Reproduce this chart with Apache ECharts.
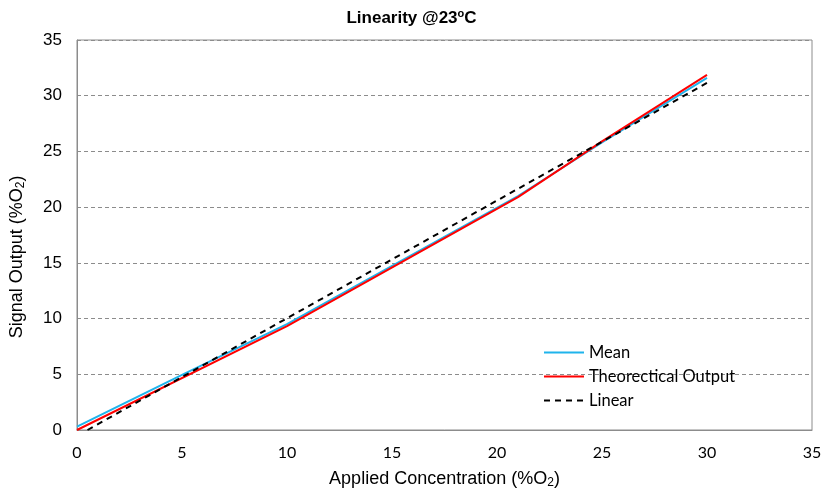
<!DOCTYPE html>
<html>
<head>
<meta charset="utf-8">
<script src="https://cdn.jsdelivr.net/npm/echarts@6/dist/echarts.min.js"></script>
<style>
  html, body { margin: 0; padding: 0; background: #fff; }
  #chart { width: 823px; height: 490px; }
</style>
</head>
<body>
<div id="chart"></div>
<script>
// Applied concentration (%O2) vs. sensor signal output at 23 °C
const meanX = [0, 5, 10, 21, 25, 30];
const meanY = [0.3, 4.95, 9.5, 21.0, 25.8, 31.6];
const theoX = [0, 10, 21, 25, 30];
const theoY = [0, 9.33, 20.9, 25.9, 31.87];
// End points of the linear trend line of the mean
const linearX = [0.5, 30];
const linearY = [0, 31.15];
const xTicks = [0, 5, 10, 15, 20, 25, 30, 35];
const yTicks = [0, 5, 10, 15, 20, 25, 30, 35];

const pairs = (xs, ys) => xs.map((x, i) => [x, ys[i]]);

const chart = echarts.init(document.getElementById('chart'));
chart.setOption({
  animation: false,
  backgroundColor: '#ffffff',
  title: {
    text: '{t|Linearity @23}{s|o}{t|C}',
    left: 'center',
    top: 3,
    textStyle: {
      rich: {
        t: { fontFamily: 'Liberation Sans, Arial', fontWeight: 'bold', fontSize: 17, color: '#000' },
        s: { fontFamily: 'Liberation Sans, Arial', fontWeight: 'bold', fontSize: 11, color: '#000', verticalAlign: 'top', padding: [0, 0, 9, 0] }
      }
    }
  },
  grid: {
    left: 77, right: 11, top: 40, bottom: 60,
    containLabel: false,
    outerBoundsMode: 'none',
    show: true, borderColor: '#8c8c8c', borderWidth: 1, backgroundColor: 'transparent'
  },
  legend: {
    orient: 'vertical',
    left: 543,
    top: 344,
    padding: 0,
    itemWidth: 40,
    itemHeight: 14,
    itemGap: 7,
    itemStyle: { opacity: 0 },
    textStyle: { fontFamily: 'Lato, Open Sans, sans-serif', fontSize: 16.5, color: '#000' },
    data: ['Mean', 'Theorectical Output', 'Linear']
  },
  xAxis: {
    type: 'value',
    min: xTicks[0],
    max: xTicks[xTicks.length - 1],
    interval: 5,
    name: '{a|Applied Concentration (%O}{s|2}{a|)}',
    nameLocation: 'middle',
    nameGap: 40,
    nameTextStyle: {
      rich: {
        a: { fontFamily: 'Liberation Sans, Arial', fontSize: 18, color: '#000' },
        s: { fontFamily: 'Liberation Sans, Arial', fontSize: 12, color: '#000', verticalAlign: 'bottom', padding: [7, 0, 0, 0] }
      }
    },
    axisLine: { show: true, lineStyle: { color: '#8c8c8c', width: 1 } },
    axisTick: { show: false },
    axisLabel: { fontFamily: 'Lato, Open Sans, sans-serif', fontSize: 16, color: '#000', margin: 15 },
    splitLine: { show: false }
  },
  yAxis: {
    type: 'value',
    min: yTicks[0],
    max: yTicks[yTicks.length - 1],
    interval: 5,
    name: '{a|Signal Output (%O}{s|2}{a|)}',
    nameLocation: 'middle',
    nameGap: 50,
    nameTextStyle: {
      padding: [0, 44, 0, 0],
      rich: {
        a: { fontFamily: 'Liberation Sans, Arial', fontSize: 18, color: '#000' },
        s: { fontFamily: 'Liberation Sans, Arial', fontSize: 12, color: '#000', verticalAlign: 'bottom', padding: [7, 0, 0, 0] }
      }
    },
    axisLine: { show: true, lineStyle: { color: '#8c8c8c', width: 1 } },
    axisTick: { show: false },
    axisLabel: { fontFamily: 'Liberation Sans, Arial', fontSize: 17, color: '#000', margin: 15 },
    splitLine: { show: true, lineStyle: { color: '#8c8c8c', type: [4, 3], width: 1 } }
  },
  series: [
    {
      name: 'Mean',
      type: 'line',
      data: pairs(meanX, meanY),
      symbol: 'none',
      lineStyle: { color: '#1fb4ec', width: 2 },
      itemStyle: { color: '#1fb4ec' },
      z: 2
    },
    {
      name: 'Theorectical Output',
      type: 'line',
      data: pairs(theoX, theoY),
      symbol: 'none',
      lineStyle: { color: '#ff0000', width: 2 },
      itemStyle: { color: '#ff0000' },
      z: 3
    },
    {
      name: 'Linear',
      type: 'line',
      data: pairs(linearX, linearY),
      symbol: 'none',
      lineStyle: { color: '#000000', width: 2, type: [6, 5] },
      itemStyle: { color: '#000000' },
      z: 4
    }
  ]
});
</script>
</body>
</html>
